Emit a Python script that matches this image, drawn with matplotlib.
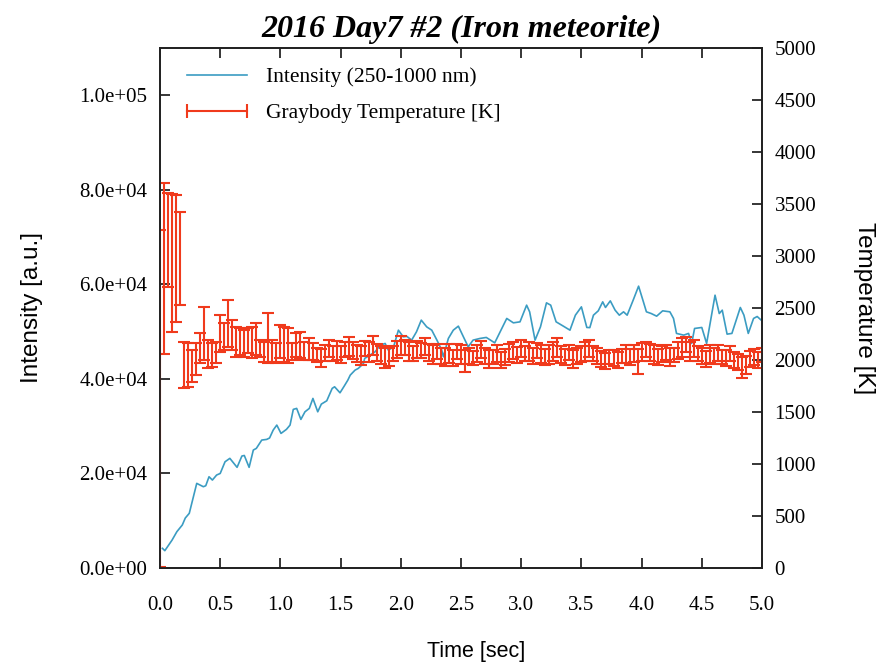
import numpy as np
import matplotlib
matplotlib.use("Agg")
import matplotlib.pyplot as plt
from matplotlib.lines import Line2D
from matplotlib.ticker import FormatStrFormatter, MultipleLocator

# intensity curve, vertices (time [s], counts)
int_time = [0.02, 0.04, 0.10, 0.14, 0.185, 0.21, 0.243, 0.305, 0.36, 0.38, 0.407, 0.435, 0.47, 0.50,
            0.54, 0.58, 0.64, 0.68, 0.70, 0.74, 0.775, 0.80, 0.845, 0.886, 0.91, 0.94, 0.97, 1.005,
            1.05, 1.08, 1.107, 1.135, 1.17, 1.204, 1.24, 1.27, 1.31, 1.34, 1.385, 1.43, 1.45, 1.495,
            1.53, 1.56, 1.58, 1.62, 1.647, 1.69, 1.70, 1.744, 1.786, 1.83, 1.87, 1.896, 1.94, 1.98,
            2.02, 2.05, 2.09, 2.13, 2.17, 2.215, 2.257, 2.30, 2.34, 2.353, 2.395, 2.436, 2.478, 2.52,
            2.56, 2.60, 2.658, 2.71, 2.78, 2.88, 2.935, 2.99, 3.045, 3.07, 3.115, 3.16, 3.21, 3.245,
            3.29, 3.35, 3.405, 3.45, 3.50, 3.545, 3.57, 3.60, 3.64, 3.677, 3.70, 3.74, 3.78, 3.815,
            3.85, 3.88, 3.93, 3.975, 4.015, 4.04, 4.08, 4.125, 4.175, 4.235, 4.265, 4.29, 4.35, 4.39,
            4.416, 4.44, 4.50, 4.54, 4.61, 4.645, 4.67, 4.71, 4.75, 4.82, 4.85, 4.886, 4.93, 4.96, 5.0]
intensity = [4160, 3660, 5900, 7680, 9090, 10570, 11560, 17900, 17190, 17400, 19300, 18600, 19660, 20000,
             22470, 23190, 21290, 23680, 23800, 21290, 24950, 25300, 27060, 27200, 27500, 29170, 30230, 28470,
             29320, 30230, 33550, 33760, 31430, 33040, 33760, 35870, 33040, 34670, 35370, 37990, 38330, 37060,
             38480, 39740, 40800, 41860, 42220, 43270, 44330, 45030, 45730, 47140, 47500, 46090, 46780, 50310,
             48900, 49000, 48200, 49950, 52430, 51010, 50310, 48200, 46090, 44670, 48560, 50310, 51160, 48900,
             46780, 48200, 48560, 48770, 47630, 52790, 51860, 52070, 55600, 54190, 48200, 51010, 56090, 55600,
             52070, 51160, 50310, 53480, 55240, 50880, 50850, 53480, 54400, 56300, 55110, 56510, 54540, 53480,
             54190, 53480, 56660, 59620, 56300, 54190, 53830, 53270, 54400, 54190, 52790, 49620, 49260, 49620,
             47500, 50670, 50880, 47500, 57710, 53830, 54540, 49470, 49620, 55110, 53480, 49620, 52790, 53200, 52280]

# graybody temperature, one value per video frame (30 fps)
fps = 30.0
temp_k = [1630, 2878, 3156, 2934, 2978, 2978,
          1952, 1952, 1944, 2010, 2114, 2256, 2058, 2048, 2072, 2256, 2225, 2352, 2240, 2176, 2176, 2160,
          2184, 2168, 2200, 2112, 2080, 2208, 2088, 2064, 2176, 2152, 2136, 2080, 2144, 2144, 2088, 2104,
          2080, 2050, 2020, 2070, 2110, 2060, 2090, 2050, 2100, 2130,
          2090, 2060, 2040, 2110, 2080, 2140, 2070, 2050, 2020, 2030,
          2060, 2100, 2140, 2120, 2080, 2060, 2100, 2090, 2130, 2070,
          2050, 2080, 2040, 2030, 2060, 2020, 2080, 2050, 1990, 2040,
          2020, 2060, 2100, 2040, 2010, 2030, 2060, 2000, 2030, 2070,
          2090, 2050, 2110, 2060, 2080, 2040, 2090, 2060, 2030, 2050,
          2080, 2120, 2050, 2030, 2070, 2010, 2040, 2060, 2080, 2110,
          2060, 2040, 2010, 1990, 2030, 2020, 2000, 2040, 2060, 2030,
          2060, 1990, 2080, 2100, 2070, 2050, 2030, 2060, 2070, 2030,
          2050, 2090, 2120, 2150, 2080, 2110, 2060, 2040, 2010, 2060,
          2040, 2070, 2030, 2020, 2060, 2000, 1980, 1930, 1950, 2010,
          2030, 2000, 2050]
temp_err = [1620, 820, 452, 662, 610, 448,
            224, 208, 152, 154, 144, 256, 134, 112, 104, 176, 128, 224, 144, 144, 128, 128,
            120, 152, 152, 80, 96, 240, 104, 96, 160, 168, 168, 80, 112, 128, 88, 104,
            80, 70, 90, 75, 85, 70, 90, 80, 75, 90,
            85, 80, 90, 70, 95, 90, 80, 85, 100, 90,
            70, 80, 95, 75, 90, 70, 80, 75, 85, 80,
            90, 70, 80, 85, 90, 80, 75, 90, 110, 80,
            70, 80, 85, 75, 90, 70, 80, 75, 80, 85,
            80, 75, 80, 70, 90, 80, 75, 85, 75, 90,
            90, 95, 80, 75, 70, 85, 80, 75, 90, 80,
            70, 80, 75, 80, 70, 75, 80, 70, 85, 80,
            80, 120, 85, 75, 80, 90, 80, 75, 70, 85,
            70, 80, 90, 75, 90, 80, 70, 75, 80, 85,
            80, 75, 70, 80, 70, 75, 80, 100, 85, 75,
            75, 80, 70]
temp_time = np.arange(len(temp_k)) / fps

blue = "#3b9cc2"
red = "#f03a1c"
serif = "Liberation Serif"
sans = "Liberation Sans"

fig = plt.figure(figsize=(8.88, 6.65), dpi=100)
ax = fig.add_axes([0.1802, 0.1459, 0.6779, 0.7819])
ax2 = ax.twinx()

ax.plot(int_time, intensity, color=blue, lw=1.2)
ax2.errorbar(temp_time, temp_k, yerr=temp_err, fmt="none", ecolor=red,
             elinewidth=1.5, capsize=4.5, capthick=1.5)

ax.set_xlim(0, 5)
ax.set_ylim(0, 110000)
ax2.set_ylim(0, 5000)

ax.xaxis.set_major_locator(MultipleLocator(0.5))
ax.xaxis.set_major_formatter(FormatStrFormatter("%.1f"))
ax.yaxis.set_major_locator(MultipleLocator(20000))
ax.yaxis.set_major_formatter(FormatStrFormatter("%.1e"))
ax2.yaxis.set_major_locator(MultipleLocator(500))

for a in (ax, ax2):
    for s in a.spines.values():
        s.set_linewidth(1.3)
        s.set_color("#222222")
ax.tick_params(axis="x", direction="in", length=7, width=1.1, top=True, pad=20,
               labelsize=15, labelfontfamily=serif)
ax.tick_params(axis="y", direction="in", length=7, width=1.1, right=False, pad=9,
               labelsize=15, labelfontfamily=serif)
ax2.tick_params(axis="y", direction="in", length=7, width=1.1, pad=9,
                labelsize=15, labelfontfamily=serif)

ax.set_xlabel("Time [sec]", family=sans, fontsize=15.5, labelpad=20)
ax.xaxis.set_label_coords(0.525, -0.14)
ax.set_ylabel("Intensity [a.u.]", family=sans, fontsize=17.5, labelpad=26)
ax2.set_ylabel("Temperature [K]", family=sans, fontsize=17.5, rotation=270, labelpad=42)
ax.set_title("2016 Day7 #2 (Iron meteorite)", family=serif, fontsize=23,
             fontweight="bold", style="italic", pad=8)

handles = [Line2D([0], [0], color=blue, lw=1.2),
           Line2D([0], [0], color=red, lw=1.5, marker="|", markersize=10, mew=1.5)]
ax2.legend(handles, ["Intensity (250-1000 nm)", "Graybody Temperature [K]"],
           loc="upper left", bbox_to_anchor=(0.02, 0.98), frameon=False, numpoints=2,
           handlelength=3.4, handletextpad=0.55, labelspacing=0.75, borderaxespad=0,
           prop={"family": serif, "size": 15.5})

fig.savefig("out.png", dpi=100)
